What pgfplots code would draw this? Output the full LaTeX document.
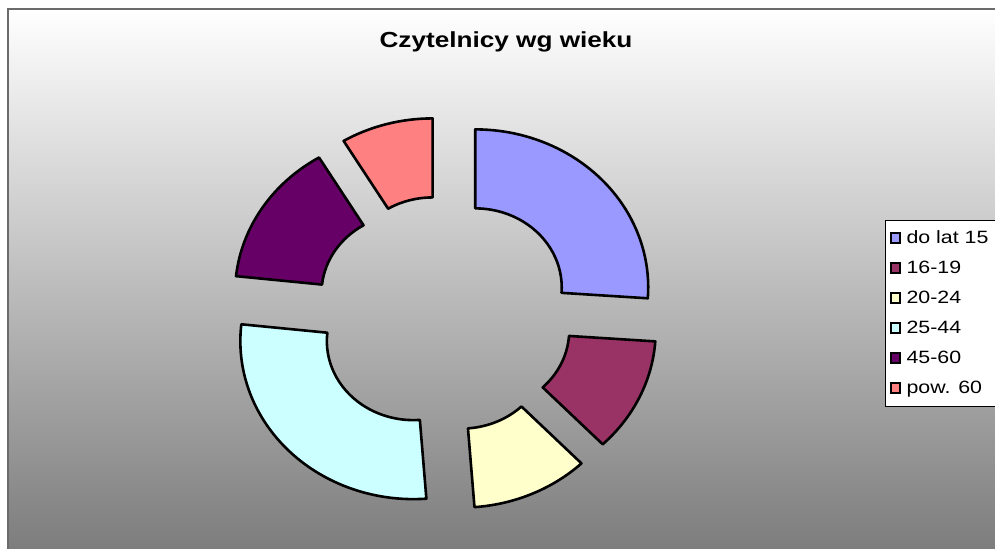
\documentclass[border=0pt]{standalone}
\usepackage{fontspec}
\setmainfont{Liberation Sans}[FakeStretch=1.2]
\usepackage{pgfplots}
\usepackage{pgfplotstable}
\pgfplotsset{compat=1.18}

\definecolor{c1}{HTML}{9999FF}
\definecolor{c2}{HTML}{993366}
\definecolor{c3}{HTML}{FFFFCC}
\definecolor{c4}{HTML}{CCFFFF}
\definecolor{c5}{HTML}{660066}
\definecolor{c6}{HTML}{FF8080}
\definecolor{bgbot}{gray}{0.49}
\definecolor{framec}{gray}{0.42}

% share of readers (percent) and sector colour
\pgfplotstableread{
value color
26.1 c1
11.7 c2
11.0 c3
27.9 c4
14.7 c5
8.6 c6
}\ringdata

\begin{document}
\begin{tikzpicture}
% background panel
\fill[white] (0pt,0pt) rectangle (497.5pt,274.5pt);
\shade[top color=white, bottom color=bgbot] (4pt,0pt) rectangle (497.5pt,270pt);
\draw[framec, line width=1pt] (4pt,0pt) -- (4pt,270pt) -- (497.5pt,270pt);

\begin{axis}[
  at={(0pt,0pt)}, anchor=south west,
  scale only axis, width=497.5pt, height=274.5pt,
  xmin=0, xmax=995, ymin=0, ymax=549,
  hide axis, clip=false,
  legend style={
    at={(axis cs:885,329)}, anchor=north west,
    draw=black, line width=0.5pt, fill=white,
    font=\fontsize{8.9}{10}\selectfont,
    inner xsep=2pt, inner ysep=1.5pt,
    row sep=0pt,
    nodes={text height=6.4pt, text depth=1.8pt, inner ysep=3.4pt, inner xsep=2.6pt},
  },
  legend cell align=left,
]
\pgfmathsetmacro\cum{0}
\pgfplotsforeachungrouped \i in {0,...,5}{%
  \pgfplotstablegetelem{\i}{value}\of\ringdata \let\rv\pgfplotsretval
  \pgfplotstablegetelem{\i}{color}\of\ringdata \let\col\pgfplotsretval
  \pgfmathsetmacro\aA{90-3.6*\cum}%
  \pgfmathsetmacro\cum{\cum+\rv}%
  \pgfmathsetmacro\aB{90-3.6*\cum}%
  \pgfmathsetmacro\am{(\aA+\aB)/2}%
  \pgfmathsetmacro\ox{444+42.7*cos(\am)}%
  \pgfmathsetmacro\oy{235+39*sin(\am)}%
  \pgfmathsetmacro\pAx{\ox+86.5*cos(\aA)}%
  \pgfmathsetmacro\pAy{\oy+79*sin(\aA)}%
  \pgfmathsetmacro\qAx{\ox+173*cos(\aA)}%
  \pgfmathsetmacro\qAy{\oy+158*sin(\aA)}%
  \pgfmathsetmacro\pBx{\ox+86.5*cos(\aB)}%
  \pgfmathsetmacro\pBy{\oy+79*sin(\aB)}%
  \edef\temp{\noexpand\draw[fill=\col, line width=1.3pt, line join=round]
    (axis cs:\pAx,\pAy) -- (axis cs:\qAx,\qAy)
    arc[start angle=\aA, end angle=\aB, x radius=86.5pt, y radius=79pt]
    -- (axis cs:\pBx,\pBy)
    arc[start angle=\aB, end angle=\aA, x radius=43.25pt, y radius=39.5pt]
    -- cycle;}%
  \temp
}

\node[font=\fontsize{10.9}{13}\selectfont\bfseries, anchor=base] at (axis cs:506,501) {Czytelnicy wg wieku};

\addlegendimage{legend image code/.code={\draw[fill=c1, line width=1pt] (0.5pt,-2.4pt) rectangle (5.4pt,2.5pt);}}
\addlegendentry{do lat 15\hspace{10pt}}
\addlegendimage{legend image code/.code={\draw[fill=c2, line width=1pt] (0.5pt,-2.4pt) rectangle (5.4pt,2.5pt);}}
\addlegendentry{16-19}
\addlegendimage{legend image code/.code={\draw[fill=c3, line width=1pt] (0.5pt,-2.4pt) rectangle (5.4pt,2.5pt);}}
\addlegendentry{20-24}
\addlegendimage{legend image code/.code={\draw[fill=c4, line width=1pt] (0.5pt,-2.4pt) rectangle (5.4pt,2.5pt);}}
\addlegendentry{25-44}
\addlegendimage{legend image code/.code={\draw[fill=c5, line width=1pt] (0.5pt,-2.4pt) rectangle (5.4pt,2.5pt);}}
\addlegendentry{45-60}
\addlegendimage{legend image code/.code={\draw[fill=c6, line width=1pt] (0.5pt,-2.4pt) rectangle (5.4pt,2.5pt);}}
\addlegendentry{pow. 60}
\end{axis}
\pgfresetboundingbox
\path[use as bounding box] (0pt,0pt) rectangle (497.5pt,274.5pt);
\end{tikzpicture}
\end{document}
